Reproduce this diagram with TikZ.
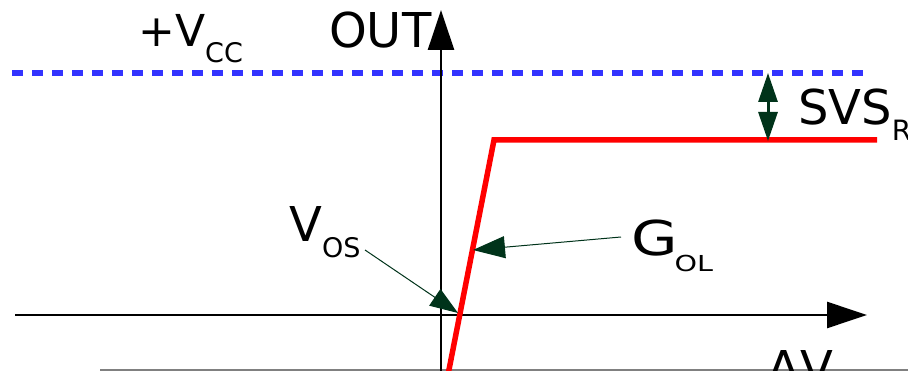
\documentclass[tikz,border=0pt]{standalone}
\usepackage{fontspec}
\setmainfont{DejaVu Sans}
\usetikzlibrary{arrows.meta}
\definecolor{vccblue}{RGB}{51,51,255}
\definecolor{dgreen}{RGB}{0,51,26}
\newcommand\mylbl[3][27]{#2\raisebox{-15.5pt}{\fontsize{#1}{#1}\selectfont #3}}
\begin{document}
\begin{tikzpicture}[x=1pt,y=-1pt,
  lab/.style={anchor=base west,inner sep=0pt,font=\fontsize{48}{48}\selectfont},
  axis/.style={line width=2.5pt,-{Triangle[length=40pt,width=26pt]}},
  ptr/.style={dgreen,line width=1pt},
  curve/.style={red,line width=5.5pt,miter limit=10}]
\useasboundingbox (0,0) rectangle (908,371);
\clip (0,0) rectangle (908,371);
% coordinates
\coordinate (vccL) at (12,73);
\coordinate (vccR) at (872,73);
\coordinate (xL) at (15,315);
\coordinate (xR) at (867,315);
\coordinate (yB) at (441,385);
\coordinate (yT) at (441,10);
\coordinate (gL) at (100,370);
\coordinate (gR) at (910,370);
\coordinate (rB) at (446,385);
\coordinate (rK) at (494,140);
\coordinate (rE) at (877,140);
\coordinate (sT) at (768,73);
\coordinate (sB) at (768,141);
\coordinate (vosS) at (365,250);
\coordinate (vosT) at (458,313);
\coordinate (golS) at (621,237);
\coordinate (golT) at (473,250);
% lines
\draw[gray,line width=1.5pt] (gL) -- (gR);
\draw[vccblue,line width=6pt,dash pattern=on 11pt off 9pt] (vccL) -- (vccR);
\draw[axis] (xL) -- (xR);
\draw[axis] (yB) -- (yT);
\draw[curve] (rB) -- (rK) -- (rE);
\draw[dgreen,line width=3pt,{Triangle[length=29pt,width=19pt]}-{Triangle[length=29pt,width=19pt]}] (sT) -- (sB);
\draw[ptr,-{Triangle[length=28pt,width=20pt]}] (vosS) -- (vosT);
\draw[ptr,-{Triangle[length=32pt,width=22pt]}] (golS) -- (golT);
% labels
\node[lab,font=\fontsize{44}{44}\selectfont] (vcc) at (138,47) {\mylbl{+V}{CC}};
\node[lab] (out) at (329,48) {OUT};
\node[lab] (svs) at (798,125) {\mylbl[28]{SVS}{R}};
\node[lab] (vos) at (289,242) {\mylbl{V}{OS}};
\node[lab] (gol) at (631,256) {\scalebox{1.25}[1]{G}\hspace{-3pt}\raisebox{-16pt}{\scalebox{1.3}[1]{\fontsize{22}{22}\selectfont OL}}};
\node[lab] (dv) at (767,385) {ΔV};
\end{tikzpicture}
\end{document}
